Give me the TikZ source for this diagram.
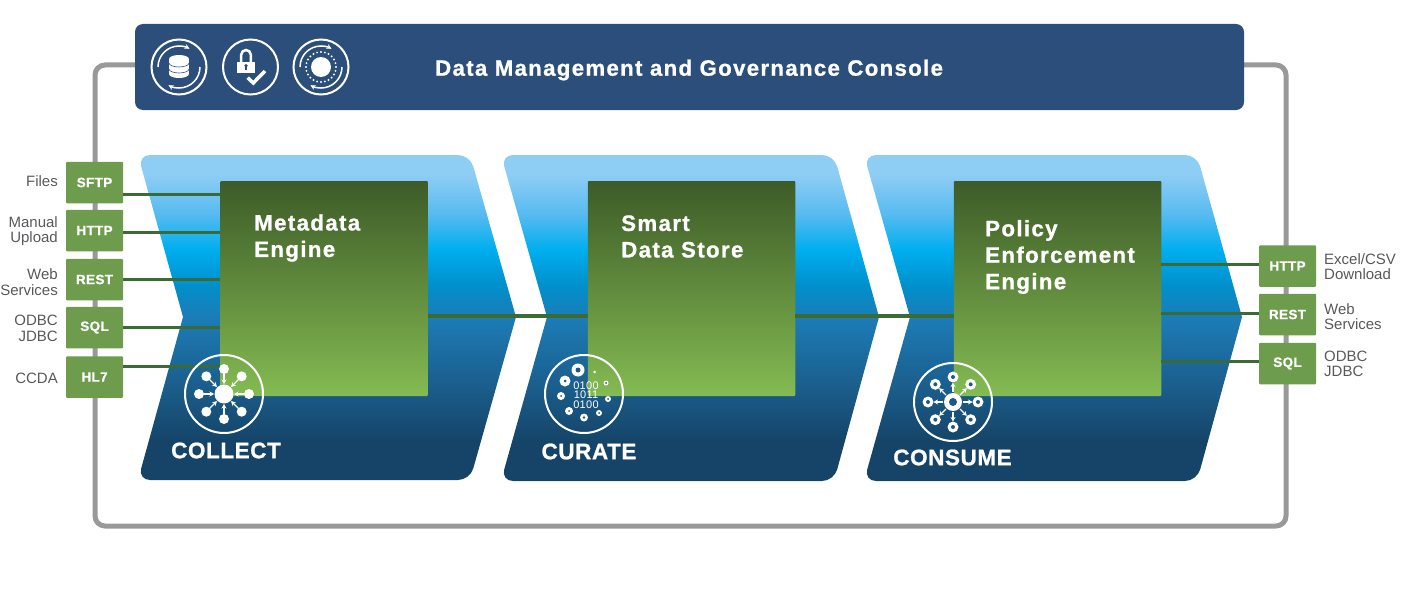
\documentclass[tikz,border=0pt]{standalone}
\usepackage{fontspec}
\usepackage{tikz}
\usetikzlibrary{arrows.meta}
\setmainfont{Liberation Sans}
\newfontfamily\spacedfont{Liberation Sans}[LetterSpace=6.0,BoldFeatures={FakeBold=1}]
\newfontfamily\widefont{Liberation Sans}[LetterSpace=2.5,BoldFeatures={FakeBold=1}]
\definecolor{frame_gray}{HTML}{999999}
\definecolor{console_blue}{HTML}{2B4F7A}
\definecolor{port_green}{HTML}{6C9C4C}
\definecolor{link_green}{HTML}{3B6A35}
\definecolor{text_gray}{HTML}{58595B}
\definecolor{hole_blue}{HTML}{1A5A88}
\definecolor{engine_top}{HTML}{3D5B28}
\definecolor{engine_bottom}{HTML}{84BB52}
\definecolor{chev_a}{HTML}{154468}
\definecolor{chev_b}{HTML}{1B5F8E}
\definecolor{chev_c}{HTML}{1C7CB6}
\definecolor{chev_d}{HTML}{0090CC}
\definecolor{chev_e}{HTML}{00AEEF}
\definecolor{chev_f}{HTML}{58BBF0}
\definecolor{chev_g}{HTML}{8ECDF4}
\pgfdeclareverticalshading{chevron_shade}{100bp}{
	color(0bp)=(chev_a);
	color(31bp)=(chev_a);
	color(40bp)=(chev_b);
	color(50bp)=(chev_c);
	color(55bp)=(chev_d);
	color(60.5bp)=(chev_e);
	color(66bp)=(chev_f);
	color(72bp)=(chev_g);
	color(100bp)=(chev_g)}

\begin{document}
\begin{tikzpicture}[x=1pt, y=-1pt,
		frame_style/.style={draw=frame_gray,line width=5pt,rounded corners=10pt},
		console_style/.style={fill=console_blue,rounded corners=8pt,minimum width=1109pt,minimum height=86pt,inner sep=0pt},
		chevron_style/.style={shading=chevron_shade},
		engine_style/.style={top color=engine_top,bottom color=engine_bottom,rounded corners=1pt,minimum width=207.5pt,minimum height=215pt,inner sep=0pt},
		port_style/.style={fill=port_green,rounded corners=1pt,minimum width=57pt,minimum height=41.5pt,inner sep=0pt,text=white,font=\widefont\bfseries\fontsize{13.5}{14}\selectfont},
		edge_style/.style={draw=link_green,line width=3pt},
		main_edge_style/.style={draw=link_green,line width=4.5pt},
		left_label/.style={anchor=east,align=right,inner sep=0pt,text=text_gray,font=\fontsize{15}{15.5}\selectfont},
		right_label/.style={anchor=west,align=left,inner sep=0pt,text=text_gray,font=\fontsize{15}{15}\selectfont},
		title_style/.style={anchor=west,align=left,inner sep=0pt,text=white,font=\spacedfont\bfseries\fontsize{22.3}{26.5}\selectfont},
		stage_style/.style={anchor=center,inner sep=0pt,text=white,font=\widefont\bfseries\fontsize{22.5}{24}\selectfont},
		icon_ring/.style={draw=white,line width=2pt},
		icon_arc/.style={draw=white,line width=1.5pt,-{Stealth[length=5pt,width=5pt]}},
		icon_arrow/.style={draw=white,line width=1.2pt,-{Stealth[length=4.5pt,width=5pt]}}]
		
		\useasboundingbox (0,0) rectangle (1401,610);
		
		% outer frame and console
		\draw[frame_style] (95,65) rectangle (1286,526);
		\node[console_style] (n_console) at (689.5,67) {};
		\node[anchor=west,inner sep=0pt,text=white,font=\spacedfont\bfseries\fontsize{22.2}{24}\selectfont] (n_console_text) at (435,70) {Data Management and Governance Console};
		
		% chevrons
		\shade[chevron_style] (183,317) [rounded corners=12pt] -- (138,155) -- (470,155) [sharp corners] -- (516,317) [rounded corners=12pt] -- (470,480) -- (138,480) [sharp corners] -- (183,317) -- cycle;
		\shade[chevron_style] (547,317) [rounded corners=12pt] -- (501,155) -- (834,155) [sharp corners] -- (879,317) [rounded corners=12pt] -- (834,481) -- (501,481) [sharp corners] -- (547,317) -- cycle;
		\shade[chevron_style] (910,317) [rounded corners=12pt] -- (864,155) -- (1197,155) [sharp corners] -- (1242,317) [rounded corners=12pt] -- (1197,481) -- (864,481) [sharp corners] -- (910,317) -- cycle;
		
		% ports
		\node[port_style] (n_sftp) at (94.5,182.5) {SFTP};
		\node[port_style] (n_http1) at (94.5,230.5) {HTTP};
		\node[port_style] (n_rest1) at (94.5,279.5) {REST};
		\node[port_style] (n_sql1) at (94.5,327.5) {SQL};
		\node[port_style] (n_hl7) at (94.5,377) {HL7};
		\node[port_style] (n_http2) at (1287.5,266) {HTTP};
		\node[port_style] (n_rest2) at (1287.5,314.5) {REST};
		\node[port_style] (n_sql2) at (1287.5,363.5) {SQL};
		
		% engines
		\node[engine_style] (n_metadata) at (324,288.5) {};
		\node[engine_style] (n_store) at (691.5,288.5) {};
		\node[engine_style] (n_policy) at (1057.5,288.5) {};
		
		\draw[edge_style] ([yshift=-12pt]n_sftp.east) -- ([yshift=-12pt]n_sftp.east -| n_metadata.west);
		\draw[edge_style] ([yshift=-2pt]n_http1.east) -- ([yshift=-2pt]n_http1.east -| n_metadata.west);
		\draw[edge_style] (n_rest1.east) -- (n_rest1.east -| n_metadata.west);
		\draw[edge_style] (n_sql1.east) -- (n_sql1.east -| n_metadata.west);
		\draw[edge_style] ([yshift=11pt]n_hl7.east) -- ([yshift=11pt]n_hl7.east -| n_metadata.west);
		\draw[edge_style] ([yshift=2pt]n_http2.west) -- ([yshift=2pt]n_http2.west -| n_policy.east);
		\draw[edge_style] ([yshift=1.5pt]n_rest2.west) -- ([yshift=1.5pt]n_rest2.west -| n_policy.east);
		\draw[edge_style] ([yshift=2.5pt]n_sql2.west) -- ([yshift=2.5pt]n_sql2.west -| n_policy.east);
		\draw[main_edge_style] ([yshift=-27.5pt]n_metadata.east) -- ([yshift=-27.5pt]n_store.west);
		\draw[main_edge_style] ([yshift=-27.5pt]n_store.east) -- ([yshift=-27.5pt]n_policy.west);
		
		% labels
		\node[left_label] (l_files) at (58,181.5) {Files};
		\node[left_label] (l_manual) at (58,231) {Manual\\Upload};
		\node[left_label] (l_web1) at (58,282) {Web\\Services};
		\node[left_label] (l_odbc1) at (58,328.5) {ODBC\\JDBC};
		\node[left_label] (l_ccda) at (58,378.5) {CCDA};
		\node[right_label] (l_excel) at (1324,267) {Excel/CSV\\Download};
		\node[right_label] (l_web2) at (1324,317) {Web\\Services};
		\node[right_label] (l_odbc2) at (1324,364) {ODBC\\JDBC};
		
		\node[title_style] (t_metadata) at (254,238) {Metadata\\Engine};
		\node[title_style] (t_store) at (621,236.5) {Smart\\Data Store};
		\node[title_style] (t_policy) at (985,257) {Policy\\Enforcement\\Engine};
		\node[stage_style] (t_collect) at (226,450.5) {COLLECT};
		\node[stage_style] (t_curate) at (589,451.5) {CURATE};
		\node[stage_style] (t_consume) at (952.5,457.5) {CONSUME};
		
		% console icons
		\begin{scope}[shift={(179,67)}]
			\draw[icon_ring] (0,0) circle (27.5);
			\draw[icon_arc] (180:21) arc[start angle=180,end angle=300,radius=21];
			\draw[icon_arc] (0:21) arc[start angle=0,end angle=120,radius=21];
			\fill[white] (-10,-8) rectangle (10,7);
			\fill[white] (0,-8) ellipse (10 and 4);
			\fill[white] (0,7) ellipse (10 and 4);
			\draw[console_blue,line width=0.6pt] (-10,-4) arc[start angle=180,end angle=0,x radius=10,y radius=4];
			\draw[console_blue,line width=0.6pt] (-10,2) arc[start angle=180,end angle=0,x radius=10,y radius=4];
		\end{scope}
		\begin{scope}[shift={(250.5,67)}]
			\draw[icon_ring] (0,0) circle (27.5);
			\fill[white] (-13.5,-5) rectangle (4.5,6);
			\draw[white,line width=2.5pt] (-9.3,-5) -- (-9.3,-12.2) arc[start angle=180,end angle=360,radius=4.8] -- (0.3,-5);
			\fill[console_blue] (-4.5,-1.3) circle (1.8);
			\fill[console_blue] (-5.2,-1.3) rectangle (-3.8,3);
			\draw[white,line width=3.5pt] (-2.8,10.7) -- (2.8,16) -- (14.5,4);
		\end{scope}
		\begin{scope}[shift={(321,67)}]
			\draw[icon_ring] (0,0) circle (27.5);
			\draw[icon_arc] (180:21) arc[start angle=180,end angle=300,radius=21];
			\draw[icon_arc] (0:21) arc[start angle=0,end angle=120,radius=21];
			\foreach \a in {0,15,...,345}
				\fill[white] (\a:15) circle (1.1);
			\fill[white] (0,0) circle (10);
		\end{scope}
		
		% collect icon
		\begin{scope}[shift={(224,394)}]
			\draw[icon_ring] (0,0) circle (39);
			\fill[white] (0,0) circle (9.5);
			\foreach \a in {0,45,...,315} {
				\fill[white] (\a:25) circle (5);
				\draw[icon_arrow] (\a:20) -- (\a:10);
			}
		\end{scope}
		
		% curate icon
		\begin{scope}[shift={(584,394)}]
			\draw[icon_ring] (0,0) circle (39);
			\foreach \px/\py/\ro/\ri in {-6/-24/6.5/2.5,-19/-13/5.5/1.5,-23/2/4/1,-15/17/4/1,0/23.5/4/1.3,15/19/3/1,24/5/3/1,22/-11/2.5/1} {
				\fill[white] (\px,\py) circle (\ro);
				\fill[hole_blue] (\px,\py) circle (\ri);
			}
			\fill[white] (10.5,-22) circle (1.5);
			\node[inner sep=0pt,align=center,text=white,font=\widefont\fontsize{11}{9.6}\selectfont] (t_bits) at (2,1.2) {0100\\1011\\0100};
		\end{scope}
		
		% consume icon
		\begin{scope}[shift={(953,402)}]
			\draw[icon_ring] (0,0) circle (39);
			\fill[white] (0,0) circle (9);
			\fill[hole_blue] (0,0) circle (4);
			\foreach \a in {0,45,...,315} {
				\fill[white] (\a:25) circle (5.5);
				\fill[hole_blue] (\a:25) circle (2);
				\draw[icon_arrow] (\a:10) -- (\a:19.5);
			}
		\end{scope}
		
		\end{tikzpicture}
\end{document}
